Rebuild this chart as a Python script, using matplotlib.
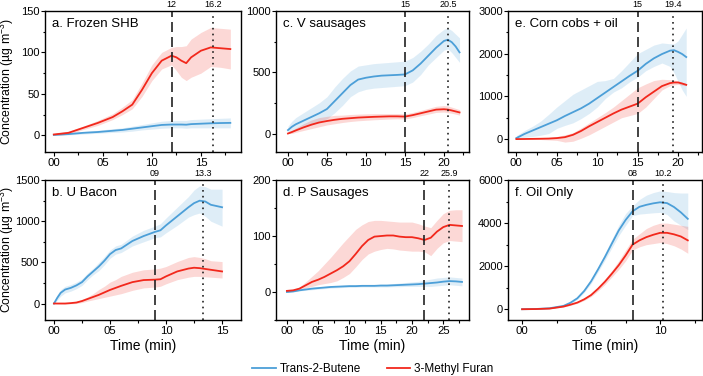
import matplotlib
matplotlib.use("Agg")
import matplotlib.pyplot as plt
from matplotlib.ticker import MultipleLocator, FuncFormatter

plt.rcParams['font.family'] = ['Liberation Sans', 'DejaVu Sans']
plt.rcParams['mathtext.default'] = 'regular'

BLUE = '#4c9fd8'
RED = '#f2281c'

# a. Frozen SHB
a_x = [0, 1.5, 3, 4.5, 6, 7, 8, 9, 10, 11, 12, 12.5, 13, 13.5, 14, 15, 16, 17, 18]
a_red = [1, 3, 9, 15, 22, 29, 37, 55, 75, 90, 96, 94, 90, 87, 94, 102, 106, 105, 104]
a_red_hi = [2, 5, 11, 18, 26, 34, 43, 63, 85, 100, 106, 107, 107, 108, 116, 124, 130, 129, 128]
a_red_lo = [0, 1, 7, 12, 19, 25, 32, 47, 66, 80, 85, 78, 70, 66, 70, 75, 83, 82, 80]
a_blue = [0.5, 1.5, 3, 4, 5.5, 6.5, 8, 9.5, 11, 12.5, 13, 13, 13, 12.8, 13.5, 14, 14.5, 14.8, 15]
a_blue_hi = [1, 2.5, 4.5, 6, 8, 9, 11, 13, 15, 17, 18, 18, 18, 18, 19, 19.5, 20, 20.5, 21]
a_blue_lo = [0, 0.5, 1.5, 2.5, 3.5, 4, 5, 6.5, 7.5, 8.5, 9, 9, 9, 8.5, 9, 9, 9, 9, 9]

# b. U Bacon
b_x = [0, 0.3, 0.6, 1, 1.5, 2, 2.5, 3, 3.5, 4, 4.5, 5, 5.5, 6, 7, 8, 9, 9.5, 10, 11, 12, 12.5, 13, 13.5, 14, 15]
b_blue = [0, 70, 130, 170, 190, 220, 260, 330, 390, 450, 520, 600, 650, 670, 760, 820, 870, 890, 950, 1060, 1170, 1220, 1250, 1240, 1200, 1170]
b_blue_hi = [20, 110, 170, 210, 230, 260, 300, 370, 430, 500, 570, 650, 700, 720, 820, 890, 940, 970, 1040, 1170, 1300, 1380, 1430, 1420, 1390, 1390]
b_blue_lo = [0, 40, 90, 130, 150, 180, 220, 290, 350, 400, 470, 550, 600, 620, 700, 750, 800, 810, 860, 950, 1050, 1080, 1100, 1060, 1000, 940]
b_red = [0, 0, 0, 0, 5, 12, 30, 55, 80, 105, 135, 165, 190, 215, 260, 285, 290, 295, 330, 390, 425, 435, 430, 420, 410, 390]
b_red_hi = [0, 2, 3, 5, 12, 25, 50, 80, 120, 170, 210, 260, 290, 330, 380, 410, 420, 430, 450, 510, 560, 570, 560, 545, 520, 510]
b_red_lo = [0, -2, -3, -5, -3, 0, 12, 30, 45, 60, 75, 90, 105, 120, 160, 190, 200, 210, 240, 290, 320, 330, 330, 325, 320, 310]

# c. V sausages
c_x = [0, 0.5, 1, 2, 3, 4, 5, 6, 7, 8, 9, 10, 11, 12, 13, 14, 15, 16, 17, 18, 19, 20, 20.5, 21, 21.5, 22]
c_blue = [28, 55, 75, 105, 135, 165, 200, 265, 330, 395, 440, 455, 465, 472, 475, 478, 482, 515, 570, 635, 700, 755, 765, 745, 710, 662]
c_blue_hi = [60, 100, 130, 170, 210, 250, 300, 380, 450, 510, 550, 560, 570, 575, 580, 585, 590, 620, 670, 730, 800, 850, 860, 840, 810, 780]
c_blue_lo = [0, 15, 30, 50, 70, 100, 120, 170, 230, 300, 340, 360, 370, 375, 380, 385, 390, 420, 480, 560, 620, 680, 690, 660, 620, 580]
c_red = [0, 12, 25, 50, 72, 90, 102, 112, 120, 125, 130, 133, 136, 138, 140, 140, 138, 150, 165, 180, 195, 198, 195, 188, 180, 172]
c_red_hi = [5, 25, 45, 80, 110, 130, 140, 148, 150, 155, 158, 160, 162, 162, 162, 162, 160, 172, 188, 205, 222, 228, 225, 215, 205, 195]
c_red_lo = [0, 0, 10, 25, 40, 55, 70, 80, 90, 98, 104, 108, 112, 115, 118, 120, 118, 130, 145, 158, 172, 175, 170, 165, 158, 150]

# d. P Sausages
d_x = [0, 1, 2, 3, 4, 5, 6, 7, 8, 9, 10, 11, 12, 13, 14, 15, 16, 17, 18, 19, 20, 21, 22, 23, 24, 25, 26, 27, 28]
d_red = [2, 3, 6, 12, 18, 22, 27, 33, 39, 46, 55, 68, 82, 93, 99, 100, 101, 101, 99, 98, 98, 96, 93, 97, 108, 116, 120, 119, 118]
d_red_hi = [3, 4, 9, 18, 28, 38, 50, 62, 75, 88, 100, 112, 120, 126, 128, 128, 127, 126, 125, 125, 125, 122, 118, 115, 128, 140, 146, 147, 147]
d_red_lo = [0, 1, 3, 7, 10, 13, 15, 17, 20, 26, 33, 45, 58, 68, 73, 76, 78, 77, 75, 74, 73, 73, 72, 65, 78, 88, 92, 91, 90]
d_blue = [0, 1, 3, 4.5, 6, 7, 8, 9, 9.5, 10, 10.5, 10.5, 11, 11, 11, 11.5, 11.5, 12, 12.5, 13, 13.5, 14, 15, 16, 17, 18.5, 19.5, 19, 18]
d_blue_hi = [1, 2, 4, 6, 8, 9, 10, 11, 11.5, 12, 12.5, 12.5, 13, 13, 13, 14, 14, 15, 16, 17, 18, 19, 21, 23, 25, 26, 27, 26, 25]
d_blue_lo = [0, 0, 2, 3, 4, 5, 6, 7, 7.5, 8, 8.5, 8.5, 9, 9, 9, 9, 9, 9.5, 9.5, 10, 10, 10, 10, 10, 11, 12, 13, 12, 11]

# e. Corn cobs + oil
e_x = [0, 1, 2, 3, 4, 5, 6, 7, 8, 9, 10, 11, 12, 13, 14, 15, 16, 17, 18, 19, 19.5, 20, 20.5, 21]
e_blue = [23, 120, 200, 280, 360, 440, 540, 630, 720, 830, 960, 1090, 1220, 1350, 1480, 1600, 1760, 1890, 1990, 2070, 2080, 2040, 1990, 1920]
e_blue_hi = [80, 200, 300, 420, 580, 750, 900, 1050, 1150, 1250, 1350, 1370, 1420, 1600, 1800, 2000, 2100, 2200, 2250, 2230, 2230, 2300, 2450, 2600]
e_blue_lo = [0, 40, 60, 90, 130, 250, 320, 380, 480, 600, 750, 950, 1100, 1200, 1340, 1450, 1600, 1700, 1780, 1700, 1550, 1350, 1150, 1000]
e_red = [0, 2, 5, 8, 12, 23, 45, 100, 190, 300, 400, 500, 600, 690, 760, 830, 980, 1110, 1240, 1310, 1325, 1325, 1300, 1270]
e_red_hi = [0, 5, 12, 20, 40, 60, 100, 150, 260, 380, 500, 620, 750, 900, 1050, 1200, 1290, 1370, 1400, 1390, 1380, 1360, 1330, 1300]
e_red_lo = [0, 0, -5, -10, -20, -30, -70, -50, 20, 100, 200, 300, 400, 500, 550, 600, 750, 950, 1150, 1250, 1270, 1280, 1260, 1250]

# f. Oil Only
f_x = [0, 1, 2, 3, 3.5, 4, 4.5, 5, 5.5, 6, 6.5, 7, 7.5, 8, 8.5, 9, 9.5, 10, 10.5, 11, 11.5, 12]
f_blue = [0, 10, 46, 154, 300, 508, 850, 1300, 1850, 2430, 3050, 3660, 4150, 4550, 4760, 4850, 4920, 4970, 4930, 4750, 4500, 4200]
f_blue_hi = [0, 15, 60, 180, 340, 560, 920, 1400, 1970, 2580, 3250, 3900, 4450, 4800, 5100, 5300, 5420, 5500, 5470, 5420, 5400, 5400]
f_blue_lo = [0, 5, 35, 130, 260, 450, 780, 1200, 1730, 2280, 2850, 3420, 3900, 4350, 4420, 4450, 4480, 4500, 4400, 4100, 3900, 3700]
f_red = [0, 8, 30, 123, 210, 308, 460, 660, 950, 1277, 1650, 2046, 2500, 3000, 3200, 3350, 3460, 3550, 3550, 3480, 3380, 3200]
f_red_hi = [0, 10, 40, 140, 240, 350, 510, 730, 1050, 1400, 1800, 2250, 2750, 3250, 3500, 3750, 3900, 4000, 4000, 3950, 3900, 3850]
f_red_lo = [0, 5, 20, 105, 180, 270, 410, 590, 850, 1150, 1500, 1850, 2250, 2750, 2900, 3000, 3050, 3100, 3050, 2950, 2800, 2600]

titles = ['a. Frozen SHB', 'b. U Bacon', 'c. V sausages', 'd. P Sausages', 'e. Corn cobs + oil', 'f. Oil Only']
dash_t = [12, 9, 15, 22, 15, 8]
dot_t = [16.2, 13.3, 20.5, 25.9, 19.4, 10.2]
dash_lbl = ['12', '09', '15', '22', '15', '08']
dot_lbl = ['16.2', '13.3', '20.5', '25.9', '19.4', '10.2']
xlims = [(-0.9, 19.1), (-0.8, 16.7), (-1.5, 23.2), (-1.7, 29.1), (-1.0, 22.9), (-1.0, 13.0)]
ylims = [(-20, 150), (-200, 1500), (-150, 1000), (-50, 200), (-300, 3000), (-500, 6000)]
ysteps = [50, 500, 500, 100, 1000, 2000]

panels = [
    (a_x, a_blue, a_blue_lo, a_blue_hi, a_red, a_red_lo, a_red_hi),
    (b_x, b_blue, b_blue_lo, b_blue_hi, b_red, b_red_lo, b_red_hi),
    (c_x, c_blue, c_blue_lo, c_blue_hi, c_red, c_red_lo, c_red_hi),
    (d_x, d_blue, d_blue_lo, d_blue_hi, d_red, d_red_lo, d_red_hi),
    (e_x, e_blue, e_blue_lo, e_blue_hi, e_red, e_red_lo, e_red_hi),
    (f_x, f_blue, f_blue_lo, f_blue_hi, f_red, f_red_lo, f_red_hi),
]

fig = plt.figure(figsize=(7.03, 3.76), dpi=100)
lefts = [0.064, 0.393, 0.723]
widths = [0.279, 0.274, 0.275]
bottoms = [0.596, 0.149]
heights = [0.375, 0.372]

for i, (x, bl, bl_lo, bl_hi, rd, rd_lo, rd_hi) in enumerate(panels):
    col, row = i // 2, i % 2
    ax = fig.add_axes([lefts[col], bottoms[row], widths[col], heights[row]])
    ax.fill_between(x, bl_lo, bl_hi, color=BLUE, alpha=0.18, lw=0)
    ax.fill_between(x, rd_lo, rd_hi, color=RED, alpha=0.18, lw=0)
    ax.plot(x, bl, color=BLUE, lw=1.3, label='Trans-2-Butene')
    ax.plot(x, rd, color=RED, lw=1.3, label='3-Methyl Furan')
    ax.axvline(dash_t[i], color='#222222', lw=1.2, ls=(0, (6, 3)))
    ax.axvline(dot_t[i], color='#222222', lw=1.2, ls=(0, (1, 2.5)))
    ax.text(dash_t[i], 1.012, dash_lbl[i], transform=ax.get_xaxis_transform(),
            ha='center', va='bottom', fontsize=6.5)
    ax.text(dot_t[i], 1.012, dot_lbl[i], transform=ax.get_xaxis_transform(),
            ha='center', va='bottom', fontsize=6.5)
    ax.text(0.035, 0.95, titles[i], transform=ax.transAxes, ha='left', va='top', fontsize=9.5)
    ax.set_xlim(*xlims[i])
    ax.set_ylim(*ylims[i])
    ax.xaxis.set_major_locator(MultipleLocator(5))
    ax.xaxis.set_minor_locator(MultipleLocator(2.5))
    ax.xaxis.set_major_formatter(FuncFormatter(lambda v, p: '%02d' % int(round(v))))
    ax.yaxis.set_major_locator(MultipleLocator(ysteps[i]))
    ax.yaxis.set_minor_locator(MultipleLocator(ysteps[i] / 2))
    ax.tick_params(which='major', labelsize=8.2, length=3, width=0.8, pad=1.5)
    ax.tick_params(axis='y', which='major', labelsize=8, pad=1.0)
    ax.tick_params(which='minor', length=1.8, width=0.8)
    for s in ax.spines.values():
        s.set_linewidth(1.0)
    if col == 0:
        ax.set_ylabel('Concentration (µg m$^{-3}$)', fontsize=8.8)
        ax.yaxis.set_label_coords(-0.148, 0.5)
    if row == 1:
        ax.set_xlabel('Time (min)', fontsize=10, labelpad=2)
    if i == 0:
        handles, labels = ax.get_legend_handles_labels()

fig.legend(handles, labels, loc='lower center', bbox_to_anchor=(0.53, -0.025), ncol=2,
           frameon=False, fontsize=8.5, handlelength=2.0, handletextpad=0.3, columnspacing=2.2)

fig.savefig('out.png', dpi=100)
